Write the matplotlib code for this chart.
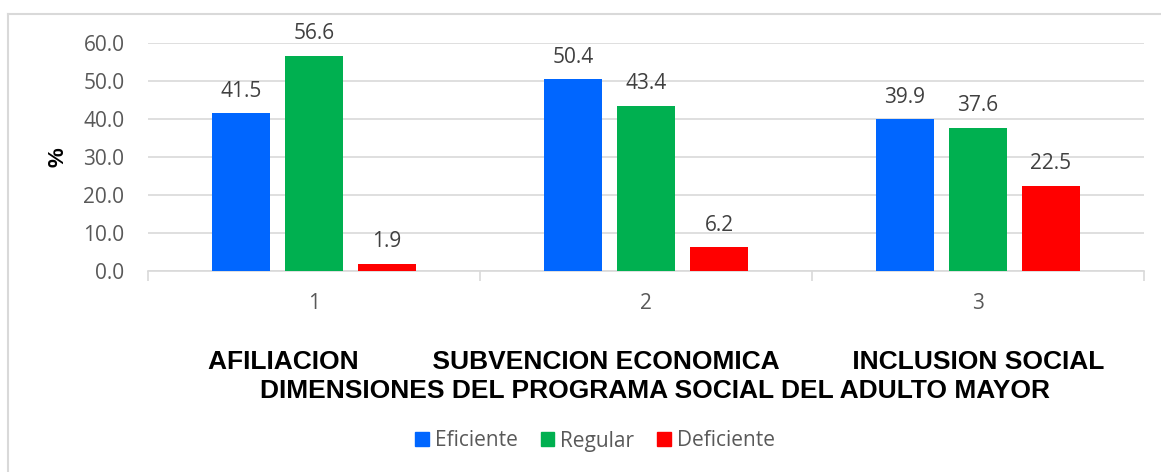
import numpy as np
import matplotlib
matplotlib.use('Agg')
import matplotlib.pyplot as plt
from matplotlib.patches import Patch
from matplotlib.lines import Line2D

categories = ['1', '2', '3']
eficiente = [41.5, 50.4, 39.9]
regular = [56.6, 43.4, 37.6]
deficiente = [1.9, 6.2, 22.5]
series_names = ['Eficiente', 'Regular', 'Deficiente']
colors = ['#0066FF', '#00B050', '#FF0000']
yticks = [0, 10, 20, 30, 40, 50, 60]
dim_line = 'AFILIACION          SUBVENCION ECONOMICA          INCLUSION SOCIAL'
dim_title = 'DIMENSIONES DEL PROGRAMA SOCIAL DEL ADULTO MAYOR'

W, H = 1161, 472
fig = plt.figure(figsize=(W / 100, H / 100), dpi=100)
ax = fig.add_axes([148 / W, 1 - 271 / H, (1144 - 148) / W, (271 - 43) / H])

x = np.arange(len(categories))
width = 0.175
offsets = [-0.22, 0, 0.22]
for vals, off, c in zip([eficiente, regular, deficiente], offsets, colors):
    bars = ax.bar(x + off, vals, width, color=c, zorder=3)
    for b, v in zip(bars, vals):
        ax.annotate('%.1f' % v, (b.get_x() + b.get_width() / 2, v),
                    xytext=(0, 12), textcoords='offset points',
                    ha='center', va='baseline', fontsize=15,
                    color='#404040', family='Open Sans')

ax.set_xlim(-0.5, 2.5)
ax.set_ylim(0, 60)
ax.set_yticks(yticks)
ax.set_yticklabels(['%.1f' % t for t in yticks], family='Open Sans',
                   fontsize=15, color='#595959')
ax.set_xticks(x)
ax.set_xticklabels(categories, family='Open Sans', fontsize=15, color='#595959')
ax.set_xticks([-0.5, 0.5, 1.5, 2.5], minor=True)
ax.tick_params(axis='x', which='major', length=0, pad=16)
ax.tick_params(axis='x', which='minor', length=7, color='#d9d9d9', width=1.2)
ax.tick_params(axis='y', length=0, pad=17)
ax.grid(axis='y', color='#d9d9d9', linewidth=1.2, zorder=0)
for s in ['top', 'right', 'left']:
    ax.spines[s].set_visible(False)
ax.spines['bottom'].set_color('#d9d9d9')
ax.spines['bottom'].set_linewidth(1.2)

fig.text(58 / W, 1 - 157 / H, '%', rotation=90, ha='center', va='center',
         fontsize=16, fontweight='bold', family='Liberation Sans')
fig.text(656 / W, 1 - 362 / H, dim_line, ha='center', va='center',
         fontsize=19, fontweight='bold', family='Liberation Sans')
fig.text(655 / W, 1 - 391 / H, dim_title, ha='center', va='center',
         fontsize=19, fontweight='bold', family='Liberation Sans')

handles = [Patch(color=c, label=n) for c, n in zip(colors, series_names)]
leg = fig.legend(handles=handles, loc='center', bbox_to_anchor=(595 / W, 1 - 441 / H),
                 ncol=3, frameon=False, handlelength=0.65, handleheight=0.65,
                 handletextpad=0.3, columnspacing=1.1,
                 prop={'family': 'Open Sans', 'size': 15})
for t in leg.get_texts():
    t.set_color('#595959')

# chart border
fig.add_artist(Line2D([8 / W, 8 / W], [0, 1 - 14 / H], color='#d9d9d9', lw=1.5,
                      transform=fig.transFigure))
fig.add_artist(Line2D([8 / W, 1], [1 - 14 / H, 1 - 14 / H], color='#d9d9d9', lw=1.5,
                      transform=fig.transFigure))

fig.savefig('out.png', dpi=100)
